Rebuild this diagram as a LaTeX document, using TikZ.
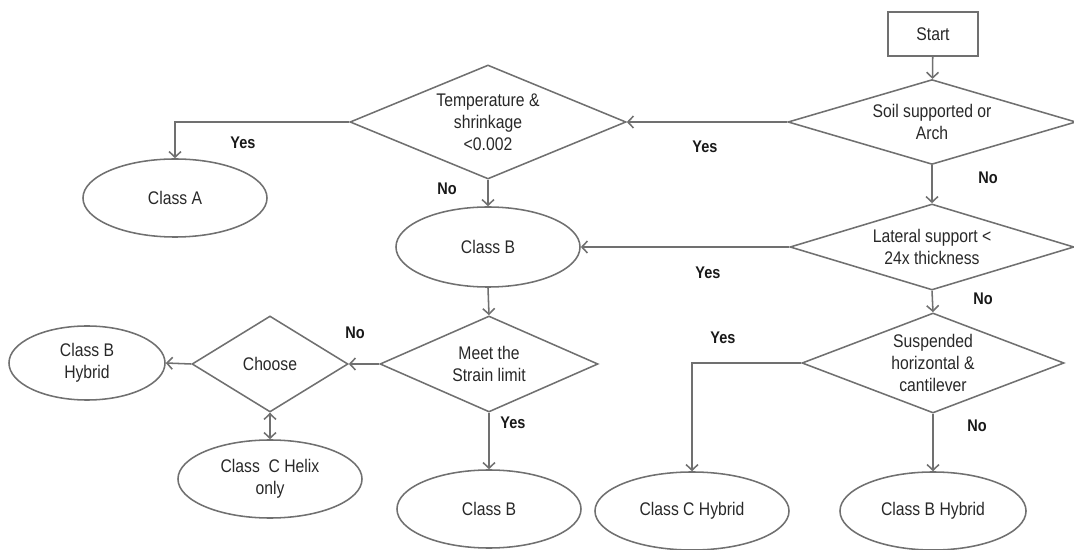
\documentclass[tikz,border=0pt]{standalone}
\usepackage{fontspec}
\setmainfont[FakeStretch=0.86]{Liberation Sans}
\usetikzlibrary{shapes.geometric,arrows.meta}
\definecolor{linegray}{RGB}{112,112,112}
\definecolor{textgray}{RGB}{40,40,40}

\begin{document}
\begin{tikzpicture}[x=0.025cm,y=-0.025cm,>={Straight Barb[length=4pt,width=8.5pt]},
    line width=1.1pt,font=\fontsize{13}{15.6}\selectfont,
    start node/.style={rectangle,draw=linegray,inner sep=0pt,text=textgray},
    dec node/.style={diamond,draw=linegray,inner sep=0pt,shape aspect=2.4,align=center,text=textgray},
    end node/.style={ellipse,draw=linegray,inner sep=0pt,align=center,text=textgray},
    lbl node/.style={inner sep=0pt,text=black!90,font=\fontsize{12}{14}\selectfont\bfseries},
    arr/.style={->,draw=linegray},
    elbow/.style={to path={-| (\tikztotarget)}}]
    \useasboundingbox (0,0) rectangle (1074,550);
    % right column
    \node[start node,minimum width=2.25cm,minimum height=1.1cm] (start) at (933,34) {Start};
    \node[dec node,minimum width=7.2cm,minimum height=2.1cm] (soil) at (932,122) {Soil supported or\\Arch};
    \node[dec node,minimum width=7.1cm,minimum height=2.15cm] (lat) at (932,247) {Lateral support <\\24x thickness};
    \node[dec node,minimum width=6.55cm,minimum height=2.5cm] (susp) at (933,363) {Suspended\\horizontal \&\\cantilever};
    \node[end node,minimum width=4.85cm,minimum height=1.95cm] (hybC) at (692,511) {Class C Hybrid};
    \node[end node,minimum width=4.65cm,minimum height=1.95cm] (hybB2) at (933,511) {Class B Hybrid};
    % middle column
    \node[dec node,minimum width=6.9cm,minimum height=2.85cm] (temp) at (488,122) {Temperature \&\\shrinkage\\<0.002};
    \node[end node,minimum width=4.6cm,minimum height=2cm] (classB1) at (488,247) {Class B};
    \node[dec node,minimum width=5.45cm,minimum height=2.4cm] (meet) at (489,364) {Meet the\\Strain limit};
    \node[end node,minimum width=4.6cm,minimum height=1.95cm] (classB2) at (489,509) {Class B};
    % left side
    \node[end node,minimum width=4.6cm,minimum height=1.95cm] (classA) at (175,198) {Class A};
    \node[dec node,minimum width=3.9cm,minimum height=2.4cm] (choose) at (270,364) {Choose};
    \node[end node,minimum width=3.9cm,minimum height=1.85cm] (hybB1) at (87,363) {Class B\\Hybrid};
    \node[end node,minimum width=4.6cm,minimum height=1.95cm] (helix) at (270,479) {Class\ \ C Helix\\only};
    % labels
    \node[lbl node] (y1) at (705,147) {Yes};
    \node[lbl node] (n1) at (988,178) {No};
    \node[lbl node] (y2) at (243,143) {Yes};
    \node[lbl node] (n2) at (447,189) {No};
    \node[lbl node] (y3) at (708,273) {Yes};
    \node[lbl node] (n3) at (983,299) {No};
    \node[lbl node] (y4) at (723,338) {Yes};
    \node[lbl node] (n4) at (977,426) {No};
    \node[lbl node] (n5) at (355,333) {No};
    \node[lbl node] (y5) at (513,423) {Yes};
    \path[arr]
    (start) edge (soil)
    (soil.west) edge (temp.east)
    (soil.south) edge (lat.north)
    (temp.west) edge[elbow] (classA.north)
    (temp.south) edge (classB1.north)
    (lat.west) edge (classB1.east)
    (lat.south) edge (susp.north)
    (susp.west) edge[elbow] (hybC.north)
    (susp.south) edge (hybB2.north)
    (classB1.south) edge (meet.north)
    (meet.west) edge (choose.east)
    (meet.south) edge (classB2.north)
    (choose.west) edge (hybB1.east)
    (choose.south) edge (helix.north);
\end{tikzpicture}
\end{document}
